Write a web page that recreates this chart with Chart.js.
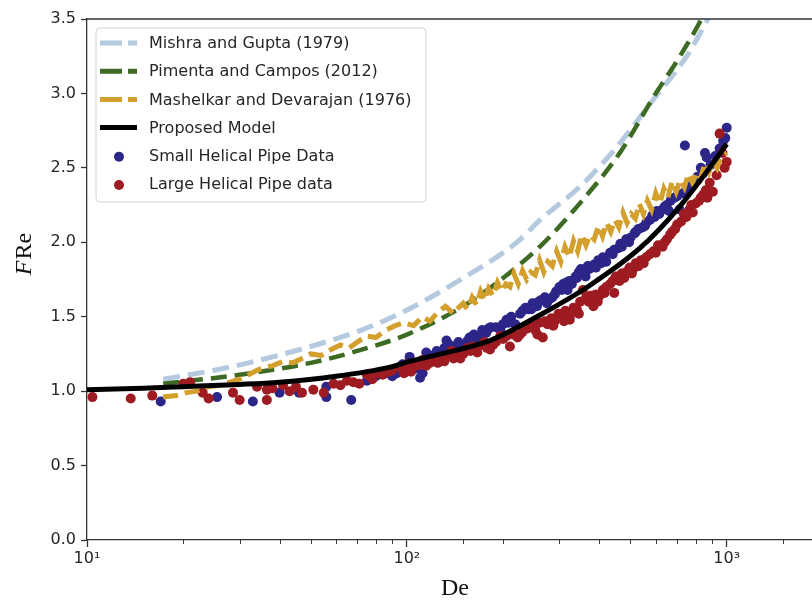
<!DOCTYPE html>
<html>
<head>
<meta charset="utf-8">
<script src="https://cdn.jsdelivr.net/npm/chart.js@4.4.1/dist/chart.umd.min.js"></script>
<style>
  html, body { margin: 0; padding: 0; background: #fff; overflow: hidden; }
  canvas { display: block; }
</style>
</head>
<body>
<canvas id="c" width="830" height="604" style="width:830px;height:604px"></canvas>
<script>
// Series names
const seriesLabels = [
  'Mishra and Gupta (1979)',
  'Pimenta and Campos (2012)',
  'Mashelkar and Devarajan (1976)',
  'Proposed Model',
  'Small Helical Pipe Data',
  'Large Helical Pipe data'
];

// Axis ticks
const yTicks = [0, 0.5, 1.0, 1.5, 2.0, 2.5, 3.0, 3.5];
const xMajorTicks = [10, 100, 1000];
const xMajorLabels = ['10\u00B9', '10\u00B2', '10\u00B3'];

// Mishra and Gupta (1979) correlation
const mishraDe  = [17.3, 25, 32, 50, 70, 97, 150, 221, 261, 350, 453, 600, 750, 900];
const mishraFRe = [1.08, 1.14, 1.19, 1.30, 1.40, 1.53, 1.76, 2.00, 2.15, 2.38, 2.64, 2.98, 3.25, 3.55];

// Pimenta and Campos (2012) correlation
const pimentaDe  = [17.3, 30, 50, 70, 100, 150, 200, 266, 350, 463, 600, 700, 834, 900];
const pimentaFRe = [1.05, 1.11, 1.19, 1.27, 1.38, 1.57, 1.76, 1.99, 2.27, 2.60, 3.00, 3.22, 3.50, 3.65];

// Mashelkar and Devarajan (1976), evaluated at the measured Dean numbers
const mashDe = [17.3, 19, 20.5, 22, 24, 26, 28, 30, 32, 34, 36, 38, 41, 44, 47, 50, 54, 58, 62, 66,
  70, 75, 80, 86, 92, 98, 105, 112, 118, 125, 132, 140, 145, 150, 155, 160, 165, 170, 175, 180,
  186, 192, 198, 204, 210, 216, 223, 230, 237, 244, 252, 260, 268, 276, 285, 294, 303, 312, 322, 332,
  342, 352, 363, 374, 385, 397, 409, 421, 434, 447, 460, 474, 488, 503, 518, 533, 549, 565, 582, 600,
  618, 636, 655, 675, 695, 716, 737, 759, 782, 805, 829, 854, 880, 906, 933, 961, 1000];
const mashFRe = [0.96, 0.97, 0.99, 1.00, 1.03, 1.04, 1.06, 1.08, 1.11, 1.14, 1.16, 1.17, 1.20, 1.19, 1.22, 1.25, 1.24, 1.28, 1.31, 1.29,
  1.33, 1.37, 1.36, 1.41, 1.44, 1.46, 1.44, 1.50, 1.47, 1.53, 1.57, 1.52, 1.56, 1.59, 1.55, 1.63, 1.58, 1.67, 1.61, 1.69,
  1.64, 1.73, 1.67, 1.72, 1.70, 1.79, 1.72, 1.81, 1.75, 1.80, 1.78, 1.88, 1.80, 1.87, 1.84, 1.94, 1.87, 1.97, 1.90, 2.01,
  1.94, 2.05, 1.98, 2.05, 2.02, 2.11, 2.04, 2.13, 2.07, 2.15, 2.10, 2.20, 2.13, 2.19, 2.16, 2.26, 2.19, 2.28, 2.22, 2.33,
  2.26, 2.36, 2.30, 2.41, 2.34, 2.42, 2.37, 2.46, 2.40, 2.47, 2.43, 2.53, 2.47, 2.55, 2.50, 2.58, 2.60];

// Proposed model
const propDe  = [10, 15, 20, 30, 40, 60, 88, 102, 140, 182, 260, 373, 535, 700, 850, 1000];
const propFRe = [1.01, 1.02, 1.03, 1.045, 1.06, 1.10, 1.16, 1.20, 1.27, 1.34, 1.51, 1.71, 1.96, 2.22, 2.45, 2.66];

// Small helical pipe measurements
const smallDe = [17, 25.5, 33, 40, 46, 56, 56, 67, 75, 80, 86, 90, 93, 97, 102, 106, 110, 112, 115, 120,
  124, 127, 131, 133, 138, 145, 148, 152, 157, 162, 166, 172, 177, 183, 190, 196, 205, 212, 218, 226,
  235, 240, 247, 255, 262, 270, 274, 285, 293, 300, 308, 315, 318, 328, 337, 345, 355, 362, 372, 385,
  397, 410, 420, 432, 445, 458, 470, 485, 500, 515, 530, 545, 560, 575, 595, 615, 630, 650, 668, 685,
  712, 730, 748, 740, 775, 800, 842, 855, 866, 890, 920, 950, 975, 1000, 990,
  104, 118, 136, 142, 155, 170, 180, 200, 208, 230, 245, 258, 280, 290, 305, 322, 340, 350, 368, 390,
  405, 440, 465, 495, 520, 555, 585, 605, 640, 660, 700, 760, 810, 830];
const smallFRe = [0.93, 0.96, 0.93, 0.99, 0.99, 0.96, 1.03, 0.94, 1.07, 1.10, 1.12, 1.10, 1.12, 1.18, 1.23, 1.15, 1.09, 1.12, 1.26, 1.21,
  1.27, 1.24, 1.29, 1.34, 1.28, 1.33, 1.30, 1.31, 1.36, 1.38, 1.33, 1.41, 1.39, 1.43, 1.43, 1.41, 1.48, 1.50, 1.45, 1.52,
  1.56, 1.55, 1.59, 1.57, 1.61, 1.63, 1.59, 1.63, 1.67, 1.70, 1.72, 1.73, 1.68, 1.72, 1.77, 1.80, 1.79, 1.77, 1.82, 1.85,
  1.88, 1.90, 1.87, 1.93, 1.95, 1.96, 1.97, 2.02, 2.03, 2.06, 2.09, 2.10, 2.13, 2.15, 2.17, 2.19, 2.22, 2.25, 2.28, 2.30,
  2.22, 2.33, 2.35, 2.65, 2.38, 2.42, 2.46, 2.60, 2.57, 2.52, 2.58, 2.63, 2.68, 2.77, 2.70,
  1.19, 1.24, 1.31, 1.30, 1.34, 1.37, 1.42, 1.45, 1.46, 1.54, 1.55, 1.60, 1.62, 1.65, 1.68, 1.74, 1.76, 1.82, 1.84, 1.83,
  1.86, 1.92, 1.99, 2.00, 2.07, 2.11, 2.18, 2.21, 2.24, 2.21, 2.31, 2.37, 2.44, 2.50];

// Large helical pipe measurements
const largeDe = [10.4, 13.7, 16, 20, 21, 23, 24, 28.6, 30, 34, 36.5, 36.5, 38, 41, 43, 45, 47, 51, 55, 59,
  62, 65, 68, 71, 75, 78, 80, 84, 88, 90, 95, 100, 103, 108, 112, 118, 123, 127, 131, 135,
  140, 143, 150, 155, 161, 166, 172, 178, 182, 190, 196, 200, 210, 215, 222, 230, 237, 242, 252, 260,
  266, 275, 283, 290, 298, 305, 313, 323, 323, 332, 340, 348, 355, 362, 370, 383, 390, 400, 410, 420,
  432, 445, 450, 462, 470, 485, 497, 510, 520, 540, 560, 575, 590, 610, 630, 650, 665, 675, 700, 720,
  748, 765, 783, 800, 820, 845, 860, 885, 905, 930, 950, 970, 985, 1000,
  98, 106, 115, 125, 138, 147, 158, 175, 186, 205, 226, 248, 256, 270, 287, 310, 328, 345, 375, 395,
  415, 440, 478, 505, 530, 550, 600, 640, 690, 735, 775, 830, 870];
const largeFRe = [0.96, 0.95, 0.97, 1.05, 1.06, 0.99, 0.95, 0.99, 0.94, 1.03, 0.94, 1.01, 1.02, 1.04, 1.00, 1.03, 0.99, 1.01, 0.99, 1.05,
  1.04, 1.07, 1.06, 1.05, 1.11, 1.08, 1.12, 1.11, 1.13, 1.14, 1.16, 1.18, 1.13, 1.17, 1.21, 1.19, 1.22, 1.23, 1.20, 1.24,
  1.22, 1.26, 1.25, 1.29, 1.30, 1.26, 1.31, 1.29, 1.28, 1.33, 1.37, 1.35, 1.30, 1.38, 1.36, 1.40, 1.42, 1.43, 1.41, 1.46,
  1.36, 1.45, 1.49, 1.47, 1.52, 1.51, 1.54, 1.48, 1.50, 1.56, 1.55, 1.60, 1.68, 1.62, 1.60, 1.57, 1.65, 1.64, 1.68, 1.70,
  1.72, 1.66, 1.77, 1.74, 1.79, 1.80, 1.83, 1.82, 1.86, 1.88, 1.90, 1.92, 1.94, 1.98, 1.97, 2.02, 2.05, 2.07, 2.12, 2.14,
  2.17, 2.22, 2.20, 2.26, 2.28, 2.32, 2.35, 2.40, 2.34, 2.45, 2.73, 2.60, 2.50, 2.54,
  1.12, 1.19, 1.17, 1.19, 1.27, 1.22, 1.27, 1.33, 1.31, 1.37, 1.38, 1.44, 1.38, 1.47, 1.44, 1.47, 1.53, 1.52, 1.64, 1.60,
  1.66, 1.74, 1.76, 1.79, 1.84, 1.86, 1.93, 2.00, 2.09, 2.19, 2.25, 2.30, 2.30];

const colors = {
  mishra: '#b5c9df',
  pimenta: '#3e6b23',
  mash: '#d39f2d',
  prop: '#000000',
  small: '#2c2688',
  large: '#9e1b22',
  axis: '#333333',
  text: '#262626'
};

function pts(xs, ys) { return xs.map((x, i) => ({ x: x, y: ys[i] })); }
function isMajor(v) { return xMajorTicks.some(t => Math.abs(v - t) < 1e-6 * t); }

Chart.defaults.font.family = "'DejaVu Sans', sans-serif";

// Legend rows (drawn on the canvas in the upper left)
const legendRows = [
  { kind: 'line', color: colors.mishra, dash: [22, 6], width: 5 },
  { kind: 'line', color: colors.pimenta, dash: [22, 6], width: 5 },
  { kind: 'line', color: colors.mash, dash: [22, 6], width: 5 },
  { kind: 'line', color: colors.prop, dash: [], width: 5 },
  { kind: 'dot', color: colors.small },
  { kind: 'dot', color: colors.large }
];

const decorPlugin = {
  id: 'decor',
  afterDatasetsDraw(chart) {
    const ctx = chart.ctx;
    const a = chart.chartArea;
    const xs = chart.scales.x;
    ctx.save();
    // top and right spines
    ctx.strokeStyle = colors.axis;
    ctx.lineWidth = 1.3;
    ctx.beginPath();
    ctx.moveTo(a.left, a.top);
    ctx.lineTo(a.right, a.top);
    ctx.lineTo(a.right, a.bottom);
    ctx.stroke();
    // minor ticks on the log axis
    ctx.lineWidth = 1;
    xs.ticks.forEach(t => {
      if (isMajor(t.value)) return;
      const px = Math.round(xs.getPixelForValue(t.value)) + 0.5;
      ctx.beginPath();
      ctx.moveTo(px, a.bottom);
      ctx.lineTo(px, a.bottom + 4);
      ctx.stroke();
    });
    ctx.restore();
  },
  afterDraw(chart) {
    const ctx = chart.ctx;
    const a = chart.chartArea;
    ctx.save();
    // legend frame
    const bx = 96, by = 28, bw = 330, bh = 174, r = 4;
    ctx.fillStyle = 'rgba(255,255,255,0.85)';
    ctx.strokeStyle = '#d2d2d2';
    ctx.lineWidth = 1;
    ctx.beginPath();
    ctx.moveTo(bx + r, by);
    ctx.arcTo(bx + bw, by, bx + bw, by + bh, r);
    ctx.arcTo(bx + bw, by + bh, bx, by + bh, r);
    ctx.arcTo(bx, by + bh, bx, by, r);
    ctx.arcTo(bx, by, bx + bw, by, r);
    ctx.closePath();
    ctx.fill();
    ctx.stroke();
    // legend rows
    ctx.font = "16px 'DejaVu Sans'";
    ctx.textBaseline = 'middle';
    ctx.textAlign = 'left';
    legendRows.forEach((row, i) => {
      const y = 43 + i * 28.2;
      if (row.kind === 'line') {
        ctx.strokeStyle = row.color;
        ctx.lineWidth = row.width;
        ctx.lineCap = 'butt';
        ctx.setLineDash(row.dash);
        ctx.beginPath();
        ctx.moveTo(100, y);
        ctx.lineTo(137, y);
        ctx.stroke();
        ctx.setLineDash([]);
      } else {
        ctx.fillStyle = row.color;
        ctx.beginPath();
        ctx.arc(119, y + 1, 5, 0, Math.PI * 2);
        ctx.fill();
      }
      ctx.fillStyle = colors.text;
      ctx.fillText(seriesLabels[i], 149, y + 1);
    });
    // x-axis title
    ctx.fillStyle = '#111';
    ctx.font = "24px 'Liberation Serif'";
    ctx.textAlign = 'center';
    ctx.textBaseline = 'middle';
    ctx.fillText('De', (a.left + 823) / 2, 589);
    // y-axis title: italic F followed by upright Re
    ctx.translate(25, 254);
    ctx.rotate(-Math.PI / 2);
    const fFont = "italic 24px 'Liberation Serif'";
    const rFont = "24px 'Liberation Serif'";
    ctx.font = fFont;
    const wF = ctx.measureText('F').width;
    ctx.font = rFont;
    const wR = ctx.measureText('Re').width;
    const start = -(wF + wR + 1) / 2;
    ctx.textAlign = 'left';
    ctx.font = fFont;
    ctx.fillText('F', start, 0);
    ctx.font = rFont;
    ctx.fillText('Re', start + wF + 1, 0);
    ctx.restore();
  }
};

new Chart(document.getElementById('c'), {
  type: 'scatter',
  data: {
    datasets: [
      { label: seriesLabels[3], data: pts(propDe, propFRe), showLine: true, borderColor: colors.prop,
        borderWidth: 5, pointRadius: 0, cubicInterpolationMode: 'monotone', order: 0 },
      { label: seriesLabels[2], data: pts(mashDe, mashFRe), showLine: true, borderColor: colors.mash,
        borderWidth: 5, borderDash: [15, 7], pointRadius: 0, tension: 0, order: 1 },
      { label: seriesLabels[5], data: pts(largeDe, largeFRe), backgroundColor: colors.large,
        borderColor: colors.large, borderWidth: 0, pointRadius: 5, order: 2 },
      { label: seriesLabels[4], data: pts(smallDe, smallFRe), backgroundColor: colors.small,
        borderColor: colors.small, borderWidth: 0, pointRadius: 5, order: 3 },
      { label: seriesLabels[1], data: pts(pimentaDe, pimentaFRe), showLine: true, borderColor: colors.pimenta,
        borderWidth: 4.5, borderDash: [16, 8], pointRadius: 0, cubicInterpolationMode: 'monotone', order: 4 },
      { label: seriesLabels[0], data: pts(mishraDe, mishraFRe), showLine: true, borderColor: colors.mishra,
        borderWidth: 5, borderDash: [17, 8], pointRadius: 0, cubicInterpolationMode: 'monotone', order: 5 }
    ]
  },
  options: {
    responsive: false,
    animation: false,
    devicePixelRatio: 1,
    layout: { padding: { top: 19, right: 7, left: 0, bottom: 0 } },
    plugins: { legend: { display: false }, tooltip: { enabled: false } },
    scales: {
      x: {
        type: 'logarithmic',
        min: 10,
        max: 2000,
        afterFit(s) { s.height = 64; },
        border: { color: colors.axis, width: 1.3 },
        grid: {
          drawOnChartArea: false,
          drawTicks: true,
          tickLength: 7,
          tickWidth: 1.3,
          tickColor: c => (c.tick && isMajor(c.tick.value)) ? colors.axis : 'rgba(0,0,0,0)'
        },
        ticks: {
          autoSkip: false,
          maxRotation: 0,
          minRotation: 0,
          padding: 2,
          color: colors.text,
          font: { size: 16 },
          callback: v => {
            const i = xMajorTicks.findIndex(t => Math.abs(v - t) < 1e-6 * t);
            return i >= 0 ? xMajorLabels[i] : '';
          }
        }
      },
      y: {
        min: 0,
        max: 3.5,
        afterFit(s) { s.width = 87; },
        afterBuildTicks(s) { s.ticks = yTicks.map(v => ({ value: v })); },
        border: { color: colors.axis, width: 1.3 },
        grid: { drawOnChartArea: false, drawTicks: true, tickLength: 6, tickWidth: 1.3, tickColor: colors.axis },
        ticks: {
          padding: 5,
          color: colors.text,
          font: { size: 16 },
          callback: v => Number(v).toFixed(1)
        }
      }
    }
  },
  plugins: [decorPlugin]
});
</script>
</body>
</html>
